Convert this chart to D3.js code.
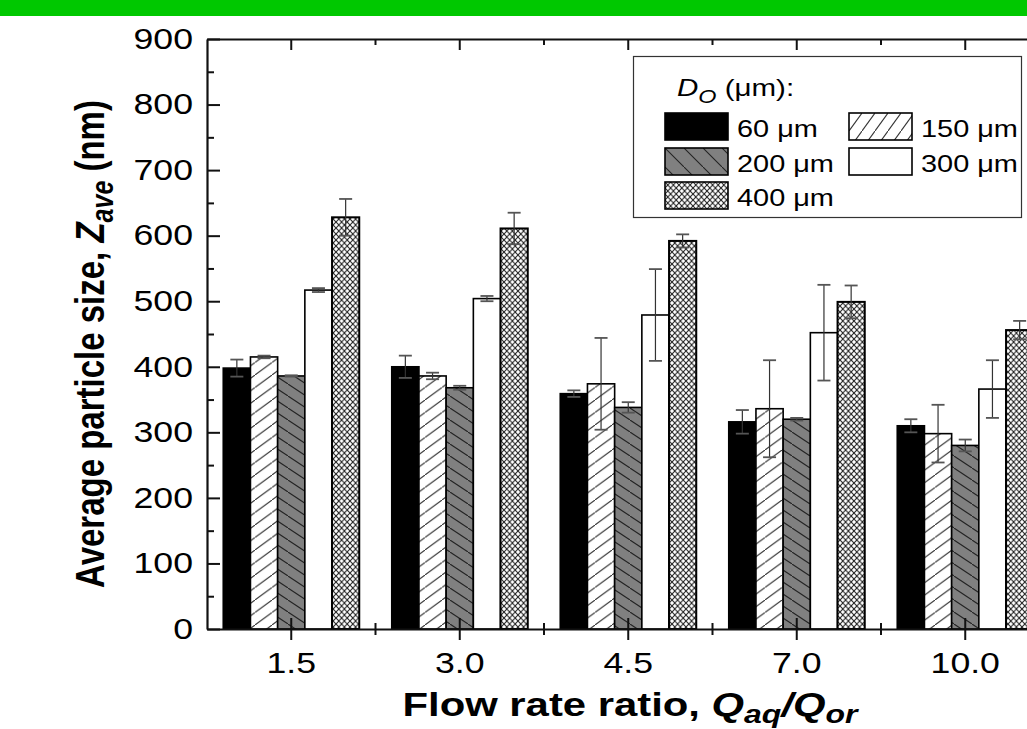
<!DOCTYPE html>
<html>
<head>
<meta charset="utf-8">
<script src="https://cdn.jsdelivr.net/npm/d3@7/dist/d3.min.js"></script>
<style>
  body { margin: 0; background: #fff; }
  svg { display: block; font-family: "Liberation Sans", Arial, Helvetica, sans-serif; }
</style>
</head>
<body>
<div id="chart"></div>
<script>
const width = 1027;
const height = 729;
// the original figure is stretched sideways, so text gets widened too
const stretch = 1.23;

// Flow rate ratio groups and orifice sizes
const ratios = ["1.5", "3.0", "4.5", "7.0", "10.0"];
const sizes = ["60 μm", "150 μm", "200 μm", "300 μm", "400 μm"];

// Z-average values (nm) for each orifice size, one per ratio
const z60  = [398, 400, 359, 316, 310];
const z150 = [415, 386, 374, 336, 298];
const z200 = [386, 368, 338, 320, 280];
const z300 = [517, 504, 479, 452, 366];
const z400 = [628, 611, 592, 499, 456];

// error bars (+/- nm)
const e60  = [13, 17, 5, 18, 10];
const e150 = [2, 5, 70, 74, 44];
const e200 = [1, 3, 8, 2, 9];
const e300 = [3, 4, 70, 73, 44];
const e400 = [28, 24, 10, 25, 14];

const yTicks = [0, 100, 200, 300, 400, 500, 600, 700, 800, 900];
const yMinorTicks = [50, 150, 250, 350, 450, 550, 650, 750, 850];

const seriesVals = [z60, z150, z200, z300, z400];
const seriesErr = [e60, e150, e200, e300, e400];

const plot = {left: 207, right: 1049.5, top: 39, bottom: 629};

const svg = d3.select("#chart")
    .append("svg")
    .attr("width", width)
    .attr("height", height);

// green strip across the top
svg.append("rect")
    .attr("x", 0).attr("y", 0)
    .attr("width", width).attr("height", 16)
    .attr("fill", "#00c800");

// patterns for the bar fills
const defs = svg.append("defs");

function addHatch(id, w, h, dir, bg, color, sw) {
    const p = defs.append("pattern")
        .attr("id", id)
        .attr("patternUnits", "userSpaceOnUse")
        .attr("width", w)
        .attr("height", h);
    p.append("rect").attr("width", w).attr("height", h).attr("fill", bg);
    const d = dir === "/"
        ? `M${-w * 0.5},${h * 1.5} L${w * 1.5},${-h * 0.5}`
        : `M${-w * 0.5},${-h * 0.5} L${w * 1.5},${h * 1.5}`;
    p.append("path").attr("d", d).attr("stroke", color).attr("stroke-width", sw).attr("fill", "none");
}

function addCross(id, w, h) {
    const p = defs.append("pattern")
        .attr("id", id)
        .attr("patternUnits", "userSpaceOnUse")
        .attr("width", w)
        .attr("height", h);
    p.append("rect").attr("width", w).attr("height", h).attr("fill", "#fff");
    p.append("path")
        .attr("d", `M${-w * 0.5},${-h * 0.5} L${w * 1.5},${h * 1.5} M${-w * 0.5},${h * 1.5} L${w * 1.5},${-h * 0.5}`)
        .attr("stroke", "#222").attr("stroke-width", 1.1).attr("fill", "none");
}

addHatch("hatch150", 17, 12.5, "/", "#fff", "#333", 1.1);
addHatch("hatch200", 18, 12, "\\", "#808080", "#222", 1.1);
addHatch("lgHatch150", 13, 18, "/", "#fff", "#333", 1.1);
addHatch("lgHatch200", 19, 19, "\\", "#808080", "#222", 1.1);
addCross("cross400", 5.6, 6);

const fills = ["#000", "url(#hatch150)", "url(#hatch200)", "#fff", "url(#cross400)"];
const legendFills = ["#000", "url(#lgHatch150)", "url(#lgHatch200)", "#fff", "url(#cross400)"];

// scales
const x0 = d3.scaleBand()
    .domain(ratios)
    .range([plot.left, plot.right])
    .padding(0);

const groupWidth = 136;
const x1 = d3.scaleBand()
    .domain(sizes)
    .range([0, groupWidth]);

const y = d3.scaleLinear()
    .domain([0, 900])
    .range([plot.bottom, plot.top]);

// flatten into one row per bar
const bars = [];
ratios.forEach((r, i) => {
    sizes.forEach((s, j) => {
        bars.push({ratio: r, size: s, k: j, v: seriesVals[j][i], e: seriesErr[j][i]});
    });
});

const barX = d => x0(d.ratio) + (x0.bandwidth() - groupWidth) / 2 + x1(d.size);

// bars
svg.append("g")
    .selectAll("rect")
    .data(bars)
    .join("rect")
    .attr("x", barX)
    .attr("y", d => y(d.v))
    .attr("width", x1.bandwidth())
    .attr("height", d => y(0) - y(d.v))
    .attr("fill", d => fills[d.k])
    .attr("stroke", "#000")
    .attr("stroke-width", d => d.k === 4 ? 2 : 1.6);

// error bars
const err = svg.append("g")
    .selectAll("g")
    .data(bars)
    .join("g")
    .attr("transform", d => `translate(${barX(d) + x1.bandwidth() / 2},0)`);

err.append("line")
    .attr("y1", d => y(d.v - d.e))
    .attr("y2", d => y(d.v + d.e))
    .attr("stroke", "#333")
    .attr("stroke-width", 1.2);

err.selectAll(".cap")
    .data(d => [d.v - d.e, d.v + d.e])
    .join("line")
    .attr("class", "cap")
    .attr("x1", -6.5).attr("x2", 6.5)
    .attr("y1", d => y(d)).attr("y2", d => y(d))
    .attr("stroke", "#555")
    .attr("stroke-width", 1.8);

// left axis: minor then major ticks, pointing inward
svg.append("g")
    .attr("transform", `translate(${plot.left},0)`)
    .call(d3.axisLeft(y).tickValues(yMinorTicks).tickSizeInner(-7).tickSizeOuter(0).tickFormat(""))
    .call(g => g.select(".domain").remove())
    .call(g => g.selectAll(".tick line").attr("stroke", "#111").attr("stroke-width", 2));

const yAxisG = svg.append("g")
    .attr("transform", `translate(${plot.left},0)`)
    .call(d3.axisLeft(y).tickValues(yTicks).tickSizeInner(-13).tickSizeOuter(0).tickPadding(14));

yAxisG.select(".domain").attr("stroke", "#111").attr("stroke-width", 2.2);
yAxisG.selectAll(".tick line").attr("stroke", "#111").attr("stroke-width", 2);
yAxisG.selectAll(".tick text")
    .attr("x", -14 / stretch)
    .attr("transform", `scale(${stretch},1)`)
    .attr("fill", "#000")
    .style("font-size", "29px")
    .style("font-family", "'Liberation Sans', Arial, sans-serif");

// bottom axis: major ticks cross the axis line
const xAxisG = svg.append("g")
    .attr("transform", `translate(0,${plot.bottom})`)
    .call(d3.axisBottom(x0).tickSizeInner(11).tickSizeOuter(0).tickPadding(12));

xAxisG.select(".domain").attr("stroke", "#111").attr("stroke-width", 2.2);
xAxisG.selectAll(".tick line").attr("y1", -11).attr("stroke", "#111").attr("stroke-width", 2);
xAxisG.selectAll(".tick text")
    .attr("transform", `scale(${stretch},1)`)
    .attr("fill", "#000")
    .style("font-size", "29px")
    .style("font-family", "'Liberation Sans', Arial, sans-serif");

// minor ticks on the bottom, at the group boundaries
svg.append("g")
    .selectAll("line")
    .data(ratios.slice(0, -1))
    .join("line")
    .attr("x1", d => x0(d) + x0.bandwidth())
    .attr("x2", d => x0(d) + x0.bandwidth())
    .attr("y1", plot.bottom - 6)
    .attr("y2", plot.bottom + 6)
    .attr("stroke", "#111")
    .attr("stroke-width", 2);

// top frame with inward ticks
const topG = svg.append("g")
    .attr("transform", `translate(0,${plot.top})`)
    .call(d3.axisTop(x0).tickSizeInner(-11).tickSizeOuter(0).tickFormat(""));
topG.select(".domain").attr("stroke", "#111").attr("stroke-width", 2.2);
topG.selectAll(".tick line").attr("stroke", "#111").attr("stroke-width", 2);

svg.append("g")
    .selectAll("line")
    .data(ratios.slice(0, -1))
    .join("line")
    .attr("x1", d => x0(d) + x0.bandwidth())
    .attr("x2", d => x0(d) + x0.bandwidth())
    .attr("y1", plot.top)
    .attr("y2", plot.top + 6)
    .attr("stroke", "#111")
    .attr("stroke-width", 2);

// right frame (falls just outside the picture)
svg.append("line")
    .attr("x1", plot.right).attr("x2", plot.right)
    .attr("y1", plot.top).attr("y2", plot.bottom)
    .attr("stroke", "#111").attr("stroke-width", 2.2);

// y axis title
const yTitle = svg.append("text")
    .attr("transform", `translate(104,344) scale(${stretch},1) rotate(-90)`)
    .attr("text-anchor", "middle")
    .style("font-size", "33px")
    .style("font-weight", "bold")
    .attr("fill", "#000");
yTitle.append("tspan").text("Average particle size, ");
yTitle.append("tspan").style("font-style", "italic").text("Z");
yTitle.append("tspan").style("font-style", "italic").style("font-size", "25px").attr("dy", 7).text("ave");
yTitle.append("tspan").attr("dy", -7).text(" (nm)");

// x axis title
const xTitle = svg.append("text")
    .attr("transform", `translate(630,716) scale(${stretch},1)`)
    .attr("text-anchor", "middle")
    .style("font-size", "34px")
    .style("font-weight", "bold")
    .attr("fill", "#000");
xTitle.append("tspan").text("Flow rate ratio, ");
xTitle.append("tspan").style("font-style", "italic").text("Q");
xTitle.append("tspan").style("font-style", "italic").style("font-size", "26px").attr("dy", 6.5).text("aq");
xTitle.append("tspan").attr("dy", -6.5).style("font-style", "italic").text("/Q");
xTitle.append("tspan").style("font-style", "italic").style("font-size", "26px").attr("dy", 6.5).text("or");

// legend
const legend = svg.append("g");
legend.append("rect")
    .attr("x", 633.5).attr("y", 56.5)
    .attr("width", 388).attr("height", 161)
    .attr("fill", "#fff")
    .attr("stroke", "#333")
    .attr("stroke-width", 1.2);

const lgTitle = legend.append("text")
    .attr("transform", `translate(677,96) scale(${stretch},1)`)
    .style("font-size", "24px")
    .attr("fill", "#000");
lgTitle.append("tspan").style("font-style", "italic").text("D");
lgTitle.append("tspan").style("font-style", "italic").style("font-size", "19px").attr("dy", 7).text("O");
lgTitle.append("tspan").attr("dy", -7).text(" (μm):");

const legendPos = [
    {x: 665, y: 113},
    {x: 849, y: 113},
    {x: 665, y: 148},
    {x: 849, y: 148},
    {x: 665, y: 182}
];

const items = legend.selectAll(".item")
    .data(sizes)
    .join("g")
    .attr("class", "item")
    .attr("transform", (d, i) => `translate(${legendPos[i].x},${legendPos[i].y})`);

items.append("rect")
    .attr("width", 63).attr("height", 27)
    .attr("fill", (d, i) => legendFills[i])
    .attr("stroke", "#000")
    .attr("stroke-width", 1.6);

items.append("text")
    .attr("transform", `translate(72,24) scale(${stretch},1)`)
    .style("font-size", "23.5px")
    .attr("fill", "#000")
    .text(d => d);
</script>
</body>
</html>
